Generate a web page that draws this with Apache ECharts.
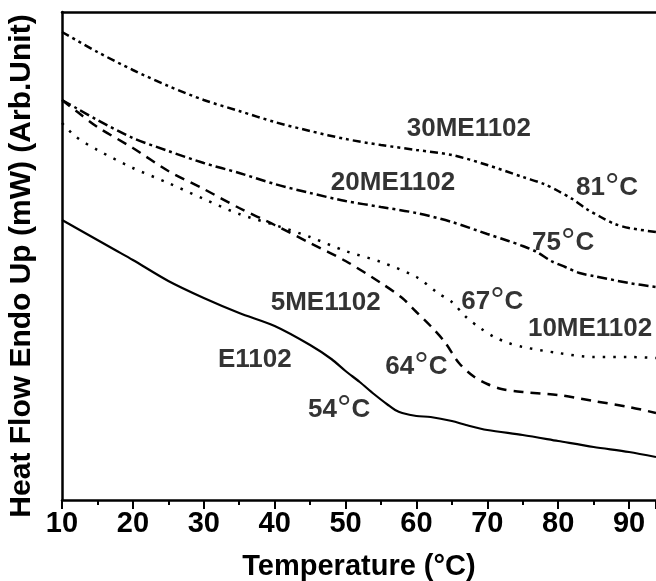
<!DOCTYPE html>
<html>
<head>
<meta charset="utf-8">
<script src="https://cdn.jsdelivr.net/npm/echarts@6/dist/echarts.min.js"></script>
<style>
html,body{margin:0;padding:0;background:#fff;}
#chart{width:656px;height:581px;}
</style>
</head>
<body>
<div id="chart"></div>
<script>
// Temperature (°C) sample points and heat flow values (arbitrary units)
const tE1102 = [10,12,15,17.5,20,25,30,35,40,45,48,50,52,54,56,57,58,60,62,65,67,70,75,80,85,90,93.8];
const vE1102 = [280,272,260,250,240,219,202,187,174,155,141,129,118,106,95,90,87,84,83,79,75,70,65,59,53,48,43];

const t5ME1102 = [10,12,15,20,25,30,35,40,45,50,55,58,60,62,64,66,68,70,72,75,80,85,90,93.8];
const v5ME1102 = [400,389,373,352,329,311,292,275,257,239,217,202,188,174,158,137,124,116,111,108,105,99,93,87];

const t10ME1102 = [10,12,15,20,25,30,35,40,45,50,55,60,63,65,67,69,71,73,75,80,85,90,93.8];
const v10ME1102 = [377,363,350,332,317,301,286,275,263,249,238,223,207,198,183,172,163,157,153,147,143,143,142];

const t20ME1102 = [10,12,15,20,25,30,35,40,45,50,55,60,65,70,73,75,77,79,81,83,85,90,93.8];
const v20ME1102 = [400,392,380,362,349,337,327,316,307,299,293,287,278,266,259,254,248,239,233,227,224,217,213];

const t30ME1102 = [10,15,20,25,30,35,40,45,50,55,60,65,70,75,78,80,82,84,86,88,90,93.8];
const v30ME1102 = [468,448,430,414,400,389,378,369,361,355,350,345,335,323,316,309,301,291,283,276,272,268];

// Annotation texts and their anchor points (data coordinates)
const annTexts = ['30ME1102','20ME1102','81°C','75°C','67°C','10ME1102','5ME1102','E1102','64°C','54°C'];
const annT     = [67.4, 56.7, 86.9, 80.7, 70.7, 84.5, 47.2, 37.2, 60.0, 49.1];
const annV     = [373, 319, 314, 259, 200, 173, 199, 142, 135, 92];

const xTicks = [10,20,30,40,50,60,70,80,90];

const FONT = '"Liberation Sans", Arial, Helvetica, sans-serif';

function pairs(t, v){ return t.map((x,i)=>[x, v[i]]); }
function lineSeries(name, t, v, type, width){
  return {
    name: name, type: 'line', data: pairs(t, v), smooth: 0.3,
    symbol: 'none', silent: true,
    lineStyle: {color: '#000', width: width, type: type, cap: 'butt'}
  };
}
function rich(txt){
  return txt.split('°').map(s => s ? '{n|' + s + '}' : '').join('{d|°}');
}

const chart = echarts.init(document.getElementById('chart'), null, {renderer: 'canvas'});
chart.setOption({
  animation: false,
  backgroundColor: '#fff',
  grid: {left: 62, right: 0, top: 12, bottom: 81, containLabel: false, outerBoundsMode: 'none'},
  xAxis: [{
    type: 'value', min: 10, max: 93.8, interval: 10,
    name: 'Temperature (°C)',
    nameLocation: 'middle', nameGap: 52,
    nameTextStyle: {color: '#000', fontFamily: FONT, fontWeight: 'bold', fontSize: 29},
    axisLine: {show: true, onZero: false, lineStyle: {color: '#000', width: 2.5}},
    axisTick: {show: true, inside: false, length: 9, lineStyle: {color: '#000', width: 2}},
    minorTick: {show: true, splitNumber: 2, length: 5, lineStyle: {color: '#000', width: 2}},
    axisLabel: {
      color: '#000', fontFamily: FONT, fontWeight: 'bold', fontSize: 29, margin: 9,
      showMaxLabel: false,
      formatter: function(v){ return xTicks.indexOf(v) >= 0 ? String(v) : ''; }
    },
    splitLine: {show: false}
  }, {
    type: 'value', position: 'top', min: 10, max: 93.8,
    axisLine: {show: true, onZero: false, lineStyle: {color: '#000', width: 2.5}},
    axisTick: {show: false}, axisLabel: {show: false}, splitLine: {show: false}
  }],
  yAxis: {
    type: 'value', min: 0, max: 488,
    name: 'Heat Flow Endo Up (mW) (Arb.Unit)',
    nameLocation: 'middle', nameGap: 25, nameRotate: 90,
    nameTextStyle: {color: '#000', fontFamily: FONT, fontWeight: 'bold', fontSize: 30, padding: [0, 20, 0, 0]},
    axisLine: {show: true, onZero: false, lineStyle: {color: '#000', width: 2.5}},
    axisTick: {show: false}, axisLabel: {show: false}, splitLine: {show: false}
  },
  series: [
    lineSeries('E1102', tE1102, vE1102, 'solid', 2.2),
    lineSeries('5ME1102', t5ME1102, v5ME1102, [10, 7], 2.5),
    lineSeries('10ME1102', t10ME1102, v10ME1102, [2.5, 8], 2.5),
    lineSeries('20ME1102', t20ME1102, v20ME1102, [10, 4, 3, 4], 2.5),
    lineSeries('30ME1102', t30ME1102, v30ME1102, [8, 4, 3, 4, 3, 4], 2.5),
    {
      type: 'scatter', symbolSize: 0, silent: true,
      data: annTexts.map((s, i) => ({value: [annT[i], annV[i]], name: s})),
      label: {
        show: true, position: 'inside',
        formatter: p => rich(p.name),
        rich: {
          n: {color: '#000', fontFamily: FONT, fontWeight: 'bold', fontSize: 26, lineHeight: 30, verticalAlign: 'bottom'},
          d: {color: '#000', fontFamily: FONT, fontWeight: 'normal', fontSize: 36, lineHeight: 24, verticalAlign: 'top'}
        }
      }
    }
  ]
});
</script>
</body>
</html>
